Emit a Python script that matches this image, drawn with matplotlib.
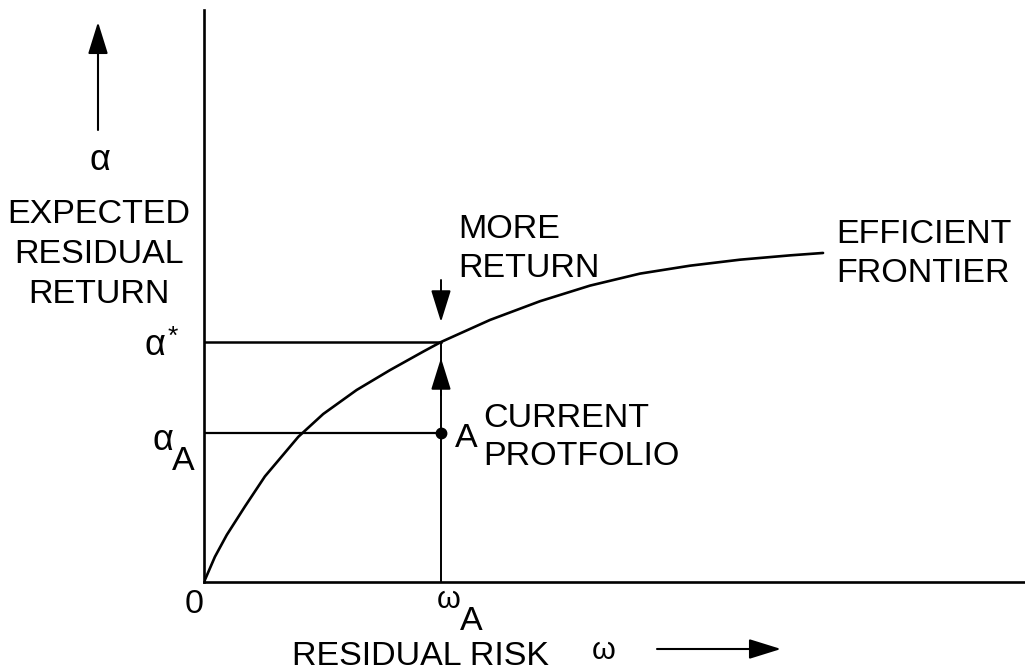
import matplotlib
matplotlib.use("Agg")
import matplotlib.pyplot as plt

# ---- data (abstract units: omega_A = 1, alpha* = 1) ----
frontier_omega = [0, 0.046, 0.096, 0.173, 0.257, 0.398, 0.503, 0.644, 0.785, 0.925,
                  1.0, 1.207, 1.418, 1.629, 1.840, 2.051, 2.262, 2.473, 2.612]
frontier_alpha = [0, 0.105, 0.196, 0.315, 0.440, 0.605, 0.700, 0.800, 0.883, 0.960,
                  1.0, 1.092, 1.170, 1.235, 1.285, 1.318, 1.343, 1.361, 1.371]
omega_A = 1.0
alpha_A = 0.62
alpha_star = 1.0

W, H = 1025, 672
fig = plt.figure(figsize=(W / 100, H / 100), dpi=100)
FONT = ["Liberation Sans", "DejaVu Sans"]

# axes frame: left spine at x=204px, bottom spine at y=582px
ax = fig.add_axes([204 / W, (H - 582) / H, (W - 204) / W, (582 - 10) / H])
ax.set_xlim(0, (W - 204) / 237)
ax.set_ylim(0, (582 - 10) / 240)
for s in ("top", "right"):
    ax.spines[s].set_visible(False)
for s in ("left", "bottom"):
    ax.spines[s].set_linewidth(1.9)
ax.set_xticks([])
ax.set_yticks([])

# frontier
ax.plot(frontier_omega, frontier_alpha, color="black", lw=1.9,
        solid_capstyle="round", solid_joinstyle="round")
# guide lines
ax.plot([0, omega_A], [alpha_star, alpha_star], color="black", lw=1.8)
ax.plot([0, omega_A], [alpha_A, alpha_A], color="black", lw=1.6)
ax.plot([omega_A, omega_A], [0, alpha_star], color="black", lw=1.4)
ax.plot([omega_A], [alpha_A], "o", color="black", markersize=7.5)

arrow_kw = dict(arrowstyle="-|>,head_length=0.9,head_width=0.28", color="black",
                lw=1.4, mutation_scale=22, shrinkA=0, shrinkB=0)
# up arrowhead on omega_A line
ax.annotate("", xy=(omega_A, (582 - 358) / 240), xytext=(omega_A, (582 - 395) / 240),
            arrowprops=arrow_kw)
# down arrow from MORE RETURN
ax.annotate("", xy=(omega_A, (582 - 322) / 240), xytext=(omega_A, (582 - 280) / 240),
            arrowprops=arrow_kw)


def P(px, py):
    return (px / W, 1 - py / H)


def txt(px, py, s, ha="left", size=24.5, **kw):
    x, y = P(px, py)
    fig.text(x, y, s, ha=ha, va="baseline", fontsize=size, family=FONT, **kw)


# figure-level arrows (axis direction arrows)
fig_arrow = dict(arrowstyle="-|>,head_length=0.9,head_width=0.28", color="black",
                 lw=1.5, mutation_scale=22, shrinkA=0, shrinkB=0)
fig.add_artist(matplotlib.patches.FancyArrowPatch(P(98, 130), P(98, 22),
               transform=fig.transFigure, **fig_arrow))
fig.add_artist(matplotlib.patches.FancyArrowPatch(P(657, 649), P(781, 649),
               transform=fig.transFigure, **fig_arrow))

# y-axis label block
txt(100, 170, "α", ha="center", size=26)
txt(99, 223, "EXPECTED", ha="center")
txt(99, 263, "RESIDUAL", ha="center")
txt(99, 303, "RETURN", ha="center")

# annotations
txt(458, 238, "MORE")
txt(458, 277, "RETURN")
txt(836, 243, "EFFICIENT")
txt(836, 282, "FRONTIER")
txt(483, 427, "CURRENT")
txt(483, 465, "PROTFOLIO")
txt(455, 447, "A")

# y tick-like labels
txt(144, 355, "α", size=26)
txt(168, 344, "*", size=19)
txt(152, 450, "α", size=26)
txt(172, 470, "A")

# x labels
txt(185, 613, "0")
txt(437, 608, "ω", size=22)
txt(460, 630, "A")
txt(292, 665, "RESIDUAL RISK")
txt(592, 659, "ω", size=22)

fig.savefig("out.png", dpi=100, facecolor="white")
